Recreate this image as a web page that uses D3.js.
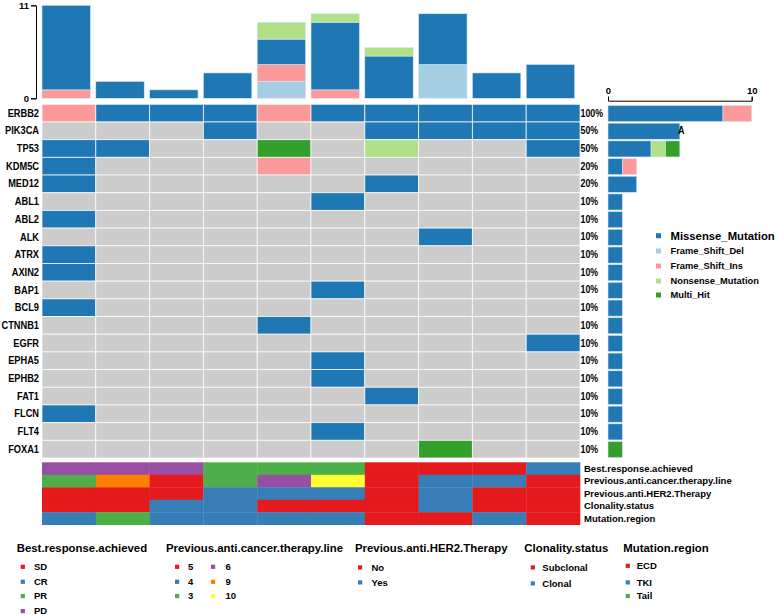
<!DOCTYPE html>
<html><head><meta charset="utf-8">
<script src="https://cdn.jsdelivr.net/npm/d3@7"></script>
<style>
body{margin:0;background:#fff}
svg{display:block}
text{font-family:"Liberation Sans",Arial,Helvetica,sans-serif;font-weight:bold;fill:#000}
</style></head><body>
<svg id="c" width="775" height="615"></svg>
<script>
// ---------------- data ----------------
const samples = ["S1","S2","S3","S4","S5","S6","S7","S8","S9","S10"];
const genes = ["ERBB2","PIK3CA","TP53","KDM5C","MED12","ABL1","ABL2","ALK","ATRX","AXIN2",
               "BAP1","BCL9","CTNNB1","EGFR","EPHA5","EPHB2","FAT1","FLCN","FLT4","FOXA1"];
const mutTypes  = ["Missense_Mutation","Frame_Shift_Del","Frame_Shift_Ins","Nonsense_Mutation","Multi_Hit"];
const mutCodes  = ["M","D","I","N","H"];
const mutColors = ["#1F78B4","#A6CEE3","#FB9A99","#B2DF8A","#33A02C"];
// one row per gene, one entry per sample ("" = no mutation)
const oncoMatrix = [
  ["I","M","M","M","I","M","M","M","M","M"], // ERBB2
  ["","","","M","","","M","M","M","M"],      // PIK3CA
  ["M","M","","","H","","N","","","M"],      // TP53
  ["M","","","","I","","","","",""],         // KDM5C
  ["M","","","","","","M","","",""],         // MED12
  ["","","","","","M","","","",""],          // ABL1
  ["M","","","","","","","","",""],          // ABL2
  ["","","","","","","","M","",""],          // ALK
  ["M","","","","","","","","",""],          // ATRX
  ["M","","","","","","","","",""],          // AXIN2
  ["","","","","","M","","","",""],          // BAP1
  ["M","","","","","","","","",""],          // BCL9
  ["","","","","M","","","","",""],          // CTNNB1
  ["","","","","","","","","","M"],          // EGFR
  ["","","","","","M","","","",""],          // EPHA5
  ["","","","","","M","","","",""],          // EPHB2
  ["","","","","","","M","","",""],          // FAT1
  ["M","","","","","","","","",""],          // FLCN
  ["","","","","","M","","","",""],          // FLT4
  ["","","","","","","","H","",""]           // FOXA1
];
// per-sample mutation counts (top bar), stacked bottom -> top: Del, Ins, Missense, Nonsense
const tmbFrameShiftDel = [0,0,0,0,2,0,0,4,0,0];
const tmbFrameShiftIns = [1,0,0,0,2,1,0,0,0,0];
const tmbMissense      = [10,2,1,3,3,8,5,6,3,4];
const tmbNonsense      = [0,0,0,0,2,1,1,0,0,0];
const topTicks = [0, 11];
const rightTicks = [0, 10];

// clinical annotations
const annotNames = ["Best.response.achieved","Previous.anti.cancer.therapy.line",
                    "Previous.anti.HER2.Therapy","Clonality.status","Mutation.region"];
const bestResponse = ["PD","PD","PD","PR","PR","PR","SD","SD","SD","CR"];
const therapyLine  = ["3","9","5","3","6","10","5","4","4","5"];
const her2Therapy  = ["No","No","No","Yes","Yes","Yes","No","Yes","No","No"];
const clonality    = ["Subclonal","Subclonal","Clonal","Clonal","Subclonal","Subclonal","Subclonal","Clonal","Subclonal","Subclonal"];
const mutRegion    = ["TKI","Tail","TKI","TKI","TKI","TKI","ECD","ECD","TKI","ECD"];
const bestLevels    = ["SD","CR","PR","PD"];
const therapyLevels = ["5","4","3","6","9","10"];
const her2Levels    = ["No","Yes"];
const clonalLevels  = ["Subclonal","Clonal"];
const regionLevels  = ["ECD","TKI","Tail"];
const set1 = ["#E41A1C","#377EB8","#4DAF4A","#984EA3","#FF7F00","#FFFF33"];

// ---------------- drawing ----------------
const svg = d3.select("#c");
svg.append("rect").attr("width",775).attr("height",615).attr("fill","#fff");

const x = d3.scaleBand().domain(samples).range([42, 580]);
const y = d3.scaleBand().domain(genes).range([104.3, 458]);
const colorOf = d3.scaleOrdinal().domain(mutCodes).range(mutColors);

// condensed text helper
function ctext(tx, ty, str, size, sx, anchor) {
  return svg.append("text")
    .attr("transform", `translate(${tx},${ty}) scale(${sx},1)`)
    .attr("dy","0.35em").attr("text-anchor", anchor || "start")
    .attr("font-size", size).text(str);
}

// main grid
const grid = svg.append("g");
oncoMatrix.forEach((row, gi) => {
  row.forEach((code, si) => {
    grid.append("rect")
      .attr("x", x(samples[si])).attr("y", y(genes[gi]))
      .attr("width", x.bandwidth()).attr("height", y.bandwidth())
      .attr("fill", code ? colorOf(code) : "#CCCCCC")
      .attr("stroke", "#ffffff").attr("stroke-width", 0.9).attr("stroke-opacity", 0.8);
  });
});

// gene labels and percentages
genes.forEach((g, gi) => {
  ctext(39, y(g) + y.bandwidth()/2, g, 10.3, 0.9, "end");
  const n = oncoMatrix[gi].filter(d => d).length;
  ctext(580.5, y(g) + y.bandwidth()/2, Math.round(n / samples.length * 100) + "%", 10, 0.88);
});

// top bar plot
const yTop = d3.scaleLinear().domain([0, 11]).range([98.3, 5.3]);
const topStacks = [tmbFrameShiftDel, tmbFrameShiftIns, tmbMissense, tmbNonsense];
const topColors = [mutColors[1], mutColors[2], mutColors[0], mutColors[3]];
samples.forEach((s, si) => {
  let acc = 0;
  topStacks.forEach((arr, k) => {
    const v = arr[si];
    if (!v) return;
    svg.append("rect")
      .attr("x", x(s)).attr("width", x.bandwidth()*0.9)
      .attr("y", yTop(acc + v)).attr("height", yTop(acc) - yTop(acc + v))
      .attr("fill", topColors[k]).attr("stroke","#d7e6f2").attr("stroke-width",0.6);
    acc += v;
  });
});
const topAxis = d3.axisLeft(yTop).tickValues(topTicks).tickSize(5).tickPadding(2);
const ta = svg.append("g").attr("transform","translate(36,0)").call(topAxis);
ta.select(".domain").attr("stroke","#000").attr("stroke-width",1);
ta.selectAll("text").attr("font-size",9.5).attr("font-family",null).attr("font-weight","bold");

// right bar plot
const xR = d3.scaleLinear().domain([0, 10]).range([608, 751.7]);
const rightOrder = ["M","D","I","N","H"];
genes.forEach((g, gi) => {
  let acc = 0;
  rightOrder.forEach(code => {
    const v = oncoMatrix[gi].filter(d => d === code).length;
    if (!v) return;
    svg.append("rect")
      .attr("x", xR(acc)).attr("width", xR(acc + v) - xR(acc))
      .attr("y", y(g) + 1.2).attr("height", y.bandwidth() - 1.6)
      .attr("fill", colorOf(code)).attr("stroke","#d7e6f2").attr("stroke-width",0.6);
    acc += v;
  });
});
const rightAxis = d3.axisTop(xR).tickValues(rightTicks).tickSize(4).tickPadding(3);
const ra = svg.append("g").attr("transform","translate(0,100.7)").call(rightAxis);
ra.select(".domain").attr("stroke","#000");
ra.selectAll("text").attr("font-size",9.5).attr("font-family",null).attr("font-weight","bold");
// stray glyph visible in the reference next to the PIK3CA bar
ctext(678, y("PIK3CA") + y.bandwidth()/2, "A", 10, 0.9);

// mutation legend
const mlY = [235.7, 251, 266, 281, 295];
mutTypes.forEach((t, i) => {
  svg.append("rect").attr("x", 656).attr("y", mlY[i]-2.5).attr("width",5).attr("height",5)
    .attr("fill", mutColors[i]);
  svg.append("text").attr("x", 670.5).attr("y", mlY[i]).attr("dy","0.35em")
    .attr("font-size", i === 0 ? 11.3 : 9.3).text(t);
});

// annotation tracks
const annotData   = [bestResponse, therapyLine, her2Therapy, clonality, mutRegion];
const annotLevels = [bestLevels, therapyLevels, her2Levels, clonalLevels, regionLevels];
const ya = d3.scaleBand().domain(annotNames).range([462.3, 524.7]);
annotNames.forEach((nm, ai) => {
  const c = d3.scaleOrdinal().domain(annotLevels[ai]).range(set1);
  annotData[ai].forEach((v, si) => {
    svg.append("rect").attr("x", x(samples[si])).attr("y", ya(nm))
      .attr("width", x.bandwidth()+0.3).attr("height", ya.bandwidth()+0.3)
      .attr("fill", c(v));
  });
  svg.append("text").attr("x", 584).attr("y", ya(nm) + ya.bandwidth()/2)
    .attr("dy","0.35em").attr("font-size",9.5).text(nm);
});

// bottom legends
function legend(title, levels, tx, items) {
  const c = d3.scaleOrdinal().domain(levels).range(set1);
  svg.append("text").attr("x", tx).attr("y", 548.5).attr("dy","0.35em")
    .attr("font-size",11.4).text(title);
  levels.forEach((lv, i) => {
    const it = items[i];
    svg.append("rect").attr("x", it[0]-2).attr("y", it[2]-2).attr("width",4.2).attr("height",4.2)
      .attr("fill", c(lv));
    svg.append("text").attr("x", it[1]).attr("y", it[2]).attr("dy","0.35em")
      .attr("font-size",9.5).text(lv);
  });
}
legend(annotNames[0], bestLevels, 16.7,
  [[22.7,34,566.7],[22.7,34,581.7],[22.7,34,596],[22.7,34,611]]);
legend(annotNames[1], therapyLevels, 166,
  [[177,188,566.7],[177,188,581.7],[177,188,596],[213,225.5,566.7],[213,225.5,581.7],[213,225.5,596]]);
legend(annotNames[2], her2Levels, 355,
  [[360,371.5,567.3],[360,371.5,582.3]]);
legend(annotNames[3], clonalLevels, 524.3,
  [[532.7,542.3,567.3],[532.7,542.3,583.3]]);
legend(annotNames[4], regionLevels, 623.3,
  [[627.7,636.7,565.7],[627.7,636.7,582.3],[627.7,636.7,596]]);
</script>
</body></html>
